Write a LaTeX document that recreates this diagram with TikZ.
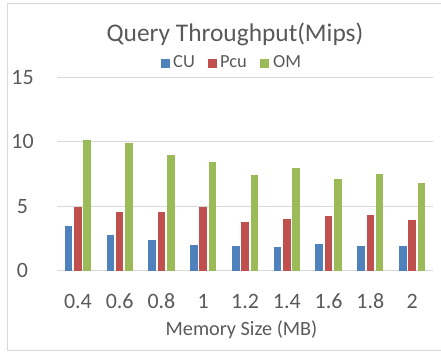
\documentclass[tikz,border=0pt]{standalone}
\usepackage{fontspec}
\setmainfont{Carlito}
\usetikzlibrary{positioning}
\definecolor{cublue}{HTML}{4F81BD}
\definecolor{pcured}{HTML}{C0504D}
\definecolor{omgreen}{HTML}{9BBB59}
\definecolor{axisgrey}{HTML}{595959}
\definecolor{gridgrey}{HTML}{D9D9D9}
\tikzset{
  charttitle/.style={font=\fontsize{25.5}{30}\selectfont, text=axisgrey, inner sep=0pt, anchor=base},
  ticklbl/.style={font=\fontsize{22}{26}\selectfont, text=axisgrey, inner sep=0pt, anchor=base},
  axtitle/.style={font=\fontsize{20.3}{24}\selectfont, text=axisgrey, inner sep=0pt, anchor=base},
  legtext/.style={font=\fontsize{18.5}{22}\selectfont, text=axisgrey, inner sep=0pt, anchor=base west},
  legkey/.style={fill=#1, minimum size=9bp, inner sep=0pt},
  gridline/.style={draw=gridgrey, line width=1bp},
  bar/.style={fill=#1},
}

\begin{document}
\begin{tikzpicture}[x=1bp, y=-1bp]
  \useasboundingbox (0,0) rectangle (441,352);
  \clip (0,0) rectangle (441,352);
  % chart frame (right edge cut off)
  \draw[gridline] (7,3.5) rectangle (450,350);
  \node[charttitle] (title) at (235,41.5) {Query Throughput(Mips)};
  % legend
  \node[legkey=cublue]  (key-cu)  at (165.5,63) {};
  \node[legtext] (leg-cu)  at (173,67.7) {CU};
  \node[legkey=pcured]  (key-pcu) at (212,63) {};
  \node[legtext] (leg-pcu) at (220,67.7) {Pcu};
  \node[legkey=omgreen] (key-om)  at (264.5,63) {};
  \node[legtext] (leg-om)  at (273,67.7) {OM};
  % value axis
  \foreach \v in {0,5,10,15} {
    \draw[gridline] (57,270.5-12.9*\v) -- (433,270.5-12.9*\v);
    \node[ticklbl] (yl\v) at (22.5,277.5-12.9*\v) {\v};
  }
  % bars per memory size
  \foreach \cu/\pcu/\om/\lbl [count=\i from 0] in
      {3.45/4.9/10.1/0.4, 2.73/4.53/9.88/0.6, 2.34/4.53/8.93/0.8,
       1.95/4.9/8.41/1, 1.9/3.76/7.43/1.2, 1.85/4.02/7.92/1.4,
       2.05/4.25/7.07/1.6, 1.9/4.3/7.46/1.8, 1.9/3.91/6.76/2} {
    \pgfmathsetmacro\cx{57+41.78*(\i+0.5)}
    \fill[bar=cublue]  (\cx-13.1,270.5) rectangle (\cx-5.5,270.5-12.9*\cu);
    \fill[bar=pcured]  (\cx-3.8,270.5)  rectangle (\cx+3.8,270.5-12.9*\pcu);
    \fill[bar=omgreen] (\cx+5.5,270.5)  rectangle (\cx+13.1,270.5-12.9*\om);
    \node[ticklbl] (xl\i) at (\cx,308.3) {\lbl};
  }
  \node[axtitle] (xtitle) at (241.5,335) {Memory Size (MB)};
\end{tikzpicture}
\end{document}
